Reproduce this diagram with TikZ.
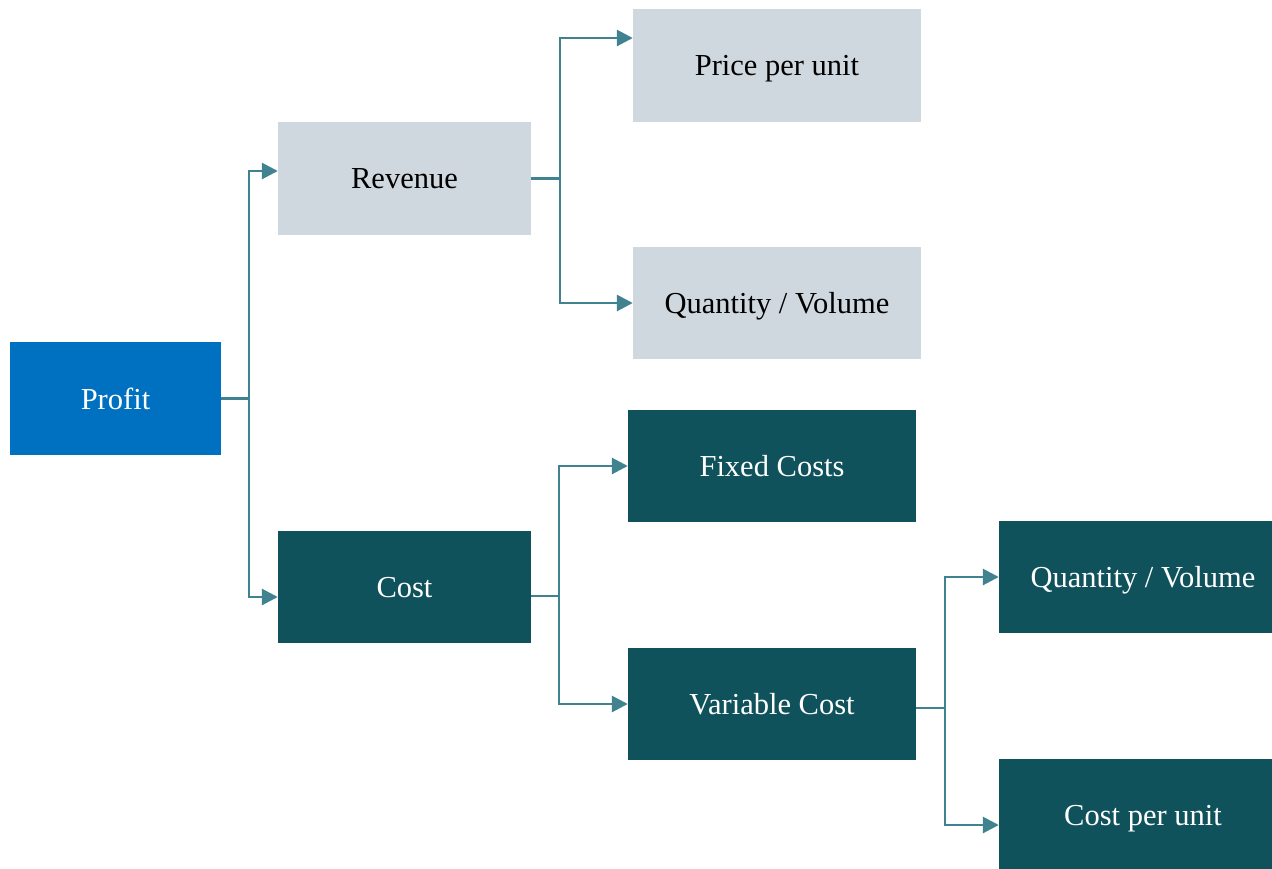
\documentclass[tikz,border=0pt]{standalone}
\usepackage{fontspec}
\setmainfont{Liberation Serif}
\usetikzlibrary{arrows.meta}
\definecolor{profitblue}{HTML}{0070C0}
\definecolor{lightgrey}{HTML}{D0D8DF}
\definecolor{darkteal}{HTML}{0F525C}
\definecolor{linkteal}{HTML}{408290}
\tikzset{
  box/.style={rectangle, inner sep=0pt, text depth=0pt, font=\fontsize{30.5}{36}\selectfont},
  rootbox/.style={box, fill=profitblue, text=white, minimum width=211pt, minimum height=113pt},
  revbox/.style={box, fill=lightgrey, text=black, minimum height=113pt},
  costbox/.style={box, fill=darkteal, text=white, minimum height=112pt},
  link/.style={draw=linkteal, line width=2.8pt, line join=miter,
    -{Triangle[length=16pt,width=16pt]}},
  plain/.style={draw=linkteal, line width=2.8pt}
}
\begin{document}
\begin{tikzpicture}[x=1pt,y=-1pt]
\useasboundingbox (0,0) rectangle (1272,868);
\clip (0,0) rectangle (1272,868);

% boxes
\node[rootbox] (profit) at (115.5,398.5) {Profit};
\node[revbox, minimum width=253pt] (revenue) at (404.5,178.5) {Revenue};
\node[revbox, minimum width=288pt] (price) at (777,65.5) {Price per unit};
\node[revbox, minimum width=288pt, minimum height=112pt] (qtyA) at (777,303) {Quantity / Volume};
\node[costbox, minimum width=253pt] (cost) at (404.5,587) {Cost};
\node[costbox, minimum width=288pt] (fixed) at (772,466) {Fixed Costs};
\node[costbox, minimum width=288pt] (variable) at (772,704) {Variable Cost};
\node[costbox, minimum width=288pt] (qtyB) at (1143,577) {Quantity / Volume};
\node[costbox, minimum width=288pt] (cpu) at (1143,815) {Cost per unit};

% branch points
\coordinate (b1) at (249,398.5);
\coordinate (b2) at (560,178.5);
\coordinate (b3) at (559,596);
\coordinate (b4) at (945,708);

% connectors
\draw[plain] (profit.east) -- (b1);
\draw[link] (b1) |- ([yshift=7.5pt]revenue.west);
\draw[link] (b1) |- ([yshift=-10pt]cost.west);

\draw[plain] (revenue.east) -- (b2);
\draw[link] (b2) |- ([yshift=27.5pt]price.west);
\draw[link] (b2) |- (qtyA.west);

\draw[plain] ([yshift=-9pt]cost.east) -- (b3);
\draw[link] (b3) |- (fixed.west);
\draw[link] (b3) |- (variable.west);

\draw[plain] ([yshift=-4pt]variable.east) -- (b4);
\draw[link] (b4) |- (qtyB.west);
\draw[link] (b4) |- ([yshift=-10pt]cpu.west);
\end{tikzpicture}
\end{document}
